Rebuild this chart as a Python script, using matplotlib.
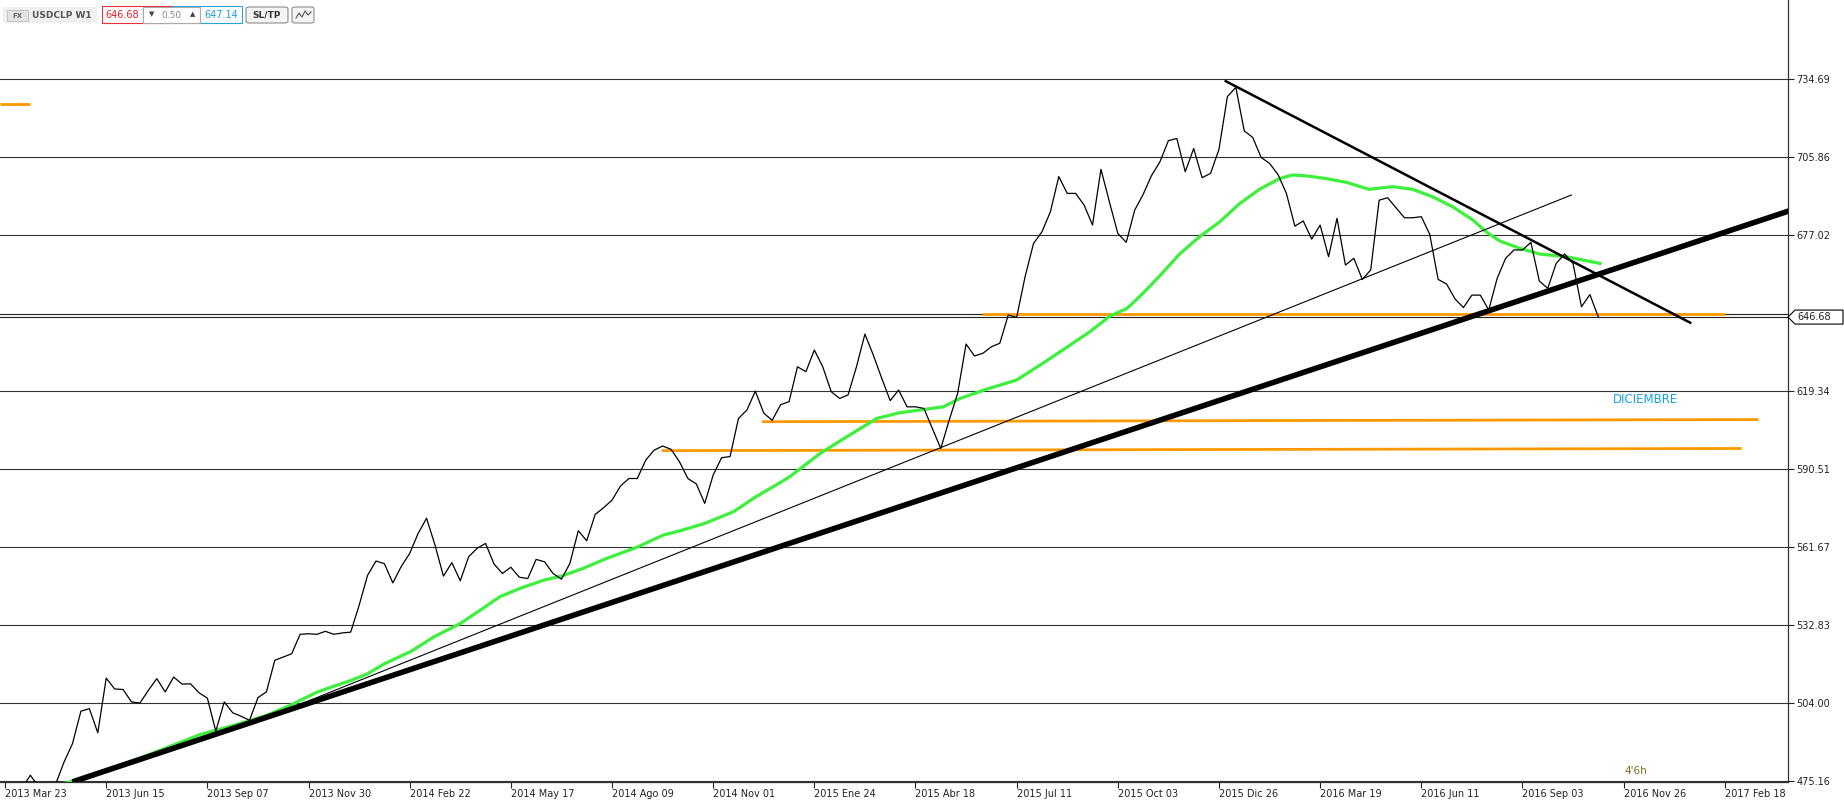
import matplotlib
matplotlib.use("Agg")
import matplotlib.pyplot as plt
import matplotlib.transforms as mtransforms
from matplotlib.patches import Rectangle, Polygon, FancyBboxPatch

# weekly closes, week 0 = 2013 Mar 23
close = [473.0, 473.0, 472.5, 477.3, 473.0, 473.0, 474.0, 482.2, 489.0, 501.0,
         501.9, 493.0, 513.2, 509.2, 509.0, 504.4, 504.0, 508.7, 513.0, 508.1,
         513.6, 511.0, 511.1, 507.8, 505.8, 493.6, 504.4, 500.4, 499.1, 497.6,
         506.0, 508.1, 519.8, 521.0, 522.2, 529.4, 529.6, 529.4, 530.5, 529.4,
         529.9, 530.2, 540.1, 551.2, 556.5, 555.5, 548.4, 554.5, 559.3, 566.7,
         572.3, 562.4, 550.9, 555.9, 549.2, 558.1, 561.2, 563.0, 555.4, 551.9,
         554.2, 550.5, 550.0, 557.1, 556.2, 551.9, 549.8, 555.6, 567.7, 564.0,
         573.7, 576.2, 579.0, 584.2, 587.0, 587.0, 593.8, 597.5, 599.0, 597.8,
         593.2, 587.0, 585.0, 577.8, 588.3, 594.7, 595.1, 609.2, 612.3, 619.3,
         611.2, 608.5, 614.3, 615.4, 628.3, 626.5, 634.5, 628.3, 619.1, 616.6,
         617.9, 628.3, 640.4, 632.6, 624.0, 615.8, 619.7, 613.5, 613.5, 612.9,
         605.5, 598.1, 608.6, 618.5, 636.7, 632.3, 633.3, 635.7, 637.0, 647.4,
         646.6, 661.6, 673.9, 678.2, 685.6, 698.6, 692.4, 692.4, 688.1, 680.7,
         701.3, 689.3, 677.6, 674.3, 686.2, 692.0, 699.0, 704.1, 711.9, 712.7,
         700.4, 709.0, 698.2, 699.8, 708.7, 728.2, 731.6, 715.5, 713.1, 705.7,
         703.5, 699.4, 692.4, 680.3, 682.2, 675.5, 680.7, 669.0, 683.2, 665.9,
         668.4, 660.6, 664.1, 689.9, 690.8, 687.1, 683.4, 683.4, 683.8, 677.3,
         660.6, 658.9, 653.4, 650.2, 654.8, 654.8, 649.3, 661.0, 668.4, 671.5,
         671.5, 674.3, 660.0, 657.3, 666.5, 670.0, 666.5, 650.5, 655.0, 646.68]

ma_week = [0, 6, 8.5, 9.7, 15.8, 19.6, 23.1, 27.1, 31, 33.8, 37, 39, 41, 43, 45,
           48.1, 50.9, 54.0, 56.4, 58.7, 61.1, 64.0, 66.0, 68.6, 71.4, 74.9, 78.1,
           80.1, 83.0, 86.4, 89.1, 91.9, 93.1, 96.7, 100.2, 103.4, 106.1, 108.5,
           111.3, 113.3, 116.4, 120.0, 123.2, 125.9, 128.7, 131.1, 133.1, 135.0,
           137.0, 139.4, 141.7, 144.1, 146.4, 148.8, 151.2, 152.7, 154.3, 156.7,
           159.1, 161.8, 164.6, 167.0, 169.3, 171.7, 174.1, 175.7, 177.3, 179.7,
           182.0, 185.2, 189.2]
ma_value = [473.0, 473.5, 475.5, 477.0, 483.4, 488.0, 492.3, 495.7, 499.4, 503.1,
            508.0, 510.2, 512.3, 514.8, 518.5, 523.0, 528.5, 533.4, 538.4, 543.3,
            546.4, 549.5, 550.9, 553.8, 557.5, 561.5, 566.1, 567.7, 570.4, 574.7,
            580.3, 585.4, 587.7, 596.3, 603.1, 609.2, 611.3, 612.3, 613.5, 616.6,
            620.0, 623.4, 629.8, 635.4, 641.3, 647.1, 649.9, 655.5, 662.0, 670.2,
            676.4, 681.9, 688.5, 693.9, 697.9, 699.2, 698.9, 697.9, 696.5, 693.9,
            694.9, 693.9, 691.2, 687.5, 682.6, 678.2, 674.8, 672.1, 670.0, 669.0,
            666.5]

# drawn objects: (week, price) end points
trend_thick = [(8.3, 475.16), (211.3, 685.6)]
trend_thin = [(32.0, 499.8), (185.8, 691.8)]
trend_down = [(144.8, 733.9), (199.9, 644.6)]
orange_levels = [[(115.9, 647.7), (204.0, 647.7)],
                 [(89.8, 608.0), (208.0, 608.8)],
                 [(77.9, 597.3), (206.0, 598.1)],
                 [(-0.6, 725.3), (3.0, 725.3)]]

bid = 646.68
ask_line = 647.7
grid_levels = [475.16, 504.00, 532.83, 561.67, 590.51, 619.34, 677.02, 705.86, 734.69]
tick_weeks = list(range(0, 205, 12))
tick_labels = ["2013 Mar 23", "2013 Jun 15", "2013 Sep 07", "2013 Nov 30",
               "2014 Feb 22", "2014 May 17", "2014 Ago 09", "2014 Nov 01",
               "2015 Ene 24", "2015 Abr 18", "2015 Jul 11", "2015 Oct 03",
               "2015 Dic 26", "2016 Mar 19", "2016 Jun 11", "2016 Sep 03",
               "2016 Nov 26", "2017 Feb 18"]

W, H = 1844, 802
fig = plt.figure(figsize=(W / 100, H / 100), dpi=100)
ax = fig.add_axes([0, 20 / H, 1788 / W, 782 / H])

ax.set_xlim(-0.6, 211.5)
ax.set_ylim(474.8, 763.9)

# grid and price lines
for g in grid_levels:
    ax.axhline(g, color="#333333", lw=0.8, zorder=1)
ax.axhline(bid, color="#222222", lw=0.8, zorder=1)
ax.axhline(ask_line, color="#222222", lw=0.8, zorder=1)

for seg in orange_levels:
    ax.plot([seg[0][0], seg[1][0]], [seg[0][1], seg[1][1]], color="#ff9900",
            lw=2.0, solid_capstyle="butt", zorder=2)

ax.plot(ma_week, ma_value, color="#3cf03c", lw=2.3, zorder=3)
ax.plot(range(len(close)), close, color="black", lw=0.9, zorder=4)

ax.plot([p[0] for p in trend_thick], [p[1] for p in trend_thick], color="black", lw=4.0, zorder=5)
ax.plot([p[0] for p in trend_thin], [p[1] for p in trend_thin], color="black", lw=0.8, zorder=5)
ax.plot([p[0] for p in trend_down], [p[1] for p in trend_down], color="black", lw=1.8, zorder=5)

ax.text(190.7, 616.2, "DICIEMBRE", color="#1ba1e2", fontsize=8.5, ha="left", va="center")
ax.text(1624 / 1788, 11.5 / 782, "4'6h", transform=ax.transAxes, color="#7d6a1e",
        fontsize=7.5, ha="left", va="center")

# axes styling
for side in ["top", "left"]:
    ax.spines[side].set_visible(False)
for side in ["bottom", "right"]:
    ax.spines[side].set_color("#333333")
    ax.spines[side].set_linewidth(0.9)

ax.set_xticks(tick_weeks)
ax.set_xticklabels(tick_labels)
for lab in ax.get_xticklabels():
    lab.set_ha("left")
ax.tick_params(axis="x", direction="out", length=4, width=0.8, pad=1,
               labelsize=7, colors="#222222")

ax.yaxis.tick_right()
ax.set_yticks(grid_levels)
ax.set_yticklabels(["%.2f" % g for g in grid_levels])
ax.tick_params(axis="y", direction="out", length=4, width=0.8, pad=2,
               labelsize=7, colors="#222222")

# current price marker on the right axis
blend = mtransforms.blended_transform_factory(ax.transAxes, ax.transData)
dy = 7 / 2.705
box = Polygon([(1.0, bid), (1 + 7 / 1788, bid + dy), (1843 / 1788, bid + dy),
               (1843 / 1788, bid - dy), (1 + 7 / 1788, bid - dy)],
              closed=True, facecolor="white", edgecolor="black", lw=0.8,
              transform=blend, clip_on=False, zorder=6)
ax.add_patch(box)
ax.text(1797 / 1788, bid, "%.2f" % bid, transform=blend, fontsize=7,
        ha="left", va="center", color="#222222", zorder=7)


# header strip (pixel positions from top-left)
def fx(x):
    return x / W


def fy(y):
    return 1 - y / H


def rect(x0, y0, x1, y1, fc, ec, lw=0.8, rounded=False):
    if rounded:
        p = FancyBboxPatch((fx(x0), fy(y1)), fx(x1) - fx(x0), fy(y0) - fy(y1),
                           boxstyle="round,pad=0,rounding_size=0.002",
                           transform=fig.transFigure, facecolor=fc, edgecolor=ec, lw=lw)
    else:
        p = Rectangle((fx(x0), fy(y1)), fx(x1) - fx(x0), fy(y0) - fy(y1),
                      transform=fig.transFigure, facecolor=fc, edgecolor=ec, lw=lw)
    fig.patches.append(p)


rect(3, 7, 97, 23, "#f0f0f0", "none")
rect(7, 10, 28, 21, "#e4e4e4", "#c4c4c4")
fig.text(fx(17.5), fy(15.5), "FX", fontsize=5, color="#666666", ha="center", va="center", weight="bold")
fig.text(fx(32), fy(15), "USDCLP W1", fontsize=6.5, color="#555555", ha="left", va="center", weight="bold")

rect(102, 6, 172, 23, "white", "#e8313a")
rect(172, 6, 242, 23, "white", "#2aa6e0")
rect(143, 6.5, 200, 22.5, "white", "#aaaaaa")
fig.text(fx(122.5), fy(15), "646.68", fontsize=7, color="#e0202a", ha="center", va="center")
fig.text(fx(221), fy(15), "647.14", fontsize=7, color="#1e9fdc", ha="center", va="center")
fig.text(fx(152), fy(14.5), "\u25bc", fontsize=5, color="#444444", ha="center", va="center")
fig.text(fx(171), fy(15.5), "0.50", fontsize=6.5, color="#888888", ha="center", va="center")
fig.text(fx(193), fy(14.5), "\u25b2", fontsize=5, color="#444444", ha="center", va="center")

rect(246, 7, 288, 23, "#f4f4f4", "#8c8c8c", rounded=True)
fig.text(fx(267), fy(15), "SL/TP", fontsize=6.5, color="#333333", ha="center", va="center", weight="bold")
rect(292, 7, 314, 23, "#f4f4f4", "#8c8c8c", rounded=True)
zig_x = [296, 299, 302, 305, 308, 311]
zig_y = [18, 13, 17, 11, 15, 12]
fig.lines.append(plt.Line2D([fx(v) for v in zig_x], [fy(v) for v in zig_y],
                            transform=fig.transFigure, color="#555555", lw=0.8))

fig.savefig("out.png", dpi=100)
